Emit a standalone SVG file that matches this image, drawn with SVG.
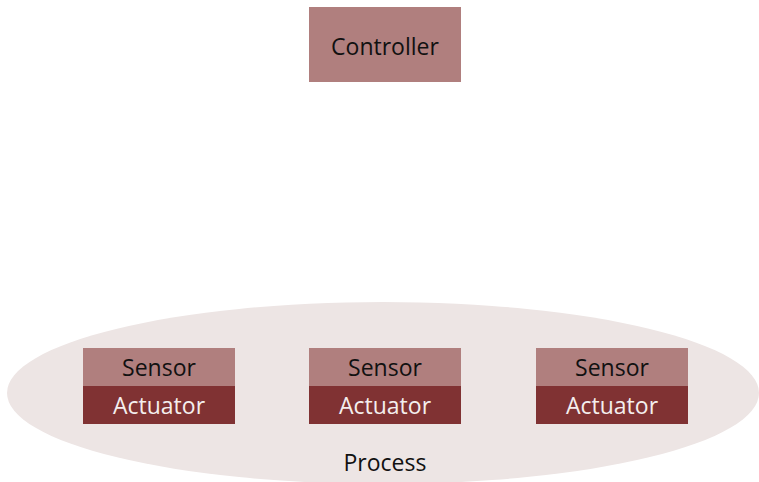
<svg xmlns="http://www.w3.org/2000/svg" width="759" height="482" viewBox="0 0 759 482">
<style>
text{font-family:"Open Sans","DejaVu Sans",sans-serif;font-size:23px;text-anchor:middle;dominant-baseline:central}
.light{fill:#b07f7e}
.dark{fill:#803233}
.lt{fill:#111}
.dt{fill:#f4eeee}
</style>
<rect width="759" height="482" fill="#ffffff"/>
<g id="process">
<ellipse cx="383" cy="393" rx="376" ry="91" fill="#ede5e4"/>
<text x="385" y="462" class="lt">Process</text>
</g>
<g id="controller">
<rect x="309" y="7" width="152" height="75" class="light"/>
<text x="385" y="45.5" class="lt">Controller</text>
</g>
<g id="unit1">
<rect x="83" y="348" width="152" height="38" class="light"/>
<rect x="83" y="386" width="152" height="38" class="dark"/>
<text x="159" y="367" class="lt">Sensor</text>
<text x="159" y="405" class="dt">Actuator</text>
</g>
<g id="unit2">
<rect x="309" y="348" width="152" height="38" class="light"/>
<rect x="309" y="386" width="152" height="38" class="dark"/>
<text x="385" y="367" class="lt">Sensor</text>
<text x="385" y="405" class="dt">Actuator</text>
</g>
<g id="unit3">
<rect x="536" y="348" width="152" height="38" class="light"/>
<rect x="536" y="386" width="152" height="38" class="dark"/>
<text x="612" y="367" class="lt">Sensor</text>
<text x="612" y="405" class="dt">Actuator</text>
</g>
<g id="connectors"></g>
</svg>
